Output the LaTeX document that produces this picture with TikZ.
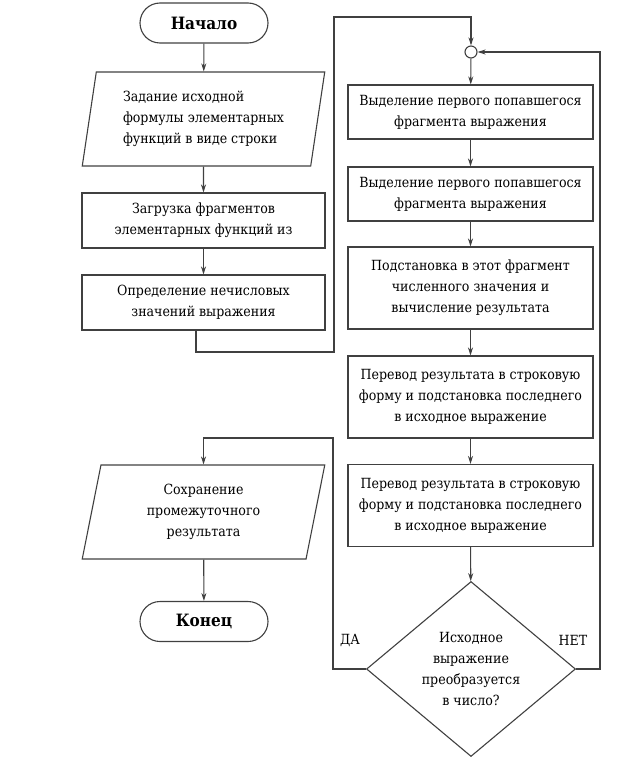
\documentclass[tikz,border=0pt]{standalone}
\usepackage{fontspec}
\setmainfont{DejaVu Serif Condensed}
\usetikzlibrary{shapes,arrows,positioning,arrows.meta}

\begin{document}
\begin{tikzpicture}[
    % GLOBAL CFG
    x=1pt, y=-1pt,
    font=\fontsize{14}{21}\selectfont,
    >={Stealth[length=8pt,width=5pt]},
    % Styles
    term/.style={% For start and end
        rectangle,
        rounded corners=20pt,
        draw=black!75,
        line width=1.1pt,
        minimum width=128pt,
        minimum height=40pt,
        font=\fontsize{17}{23}\selectfont\bfseries,
        },
    io/.style={% For input and output
        trapezium,
        trapezium left angle=80,
        trapezium right angle=100,
        trapezium stretches=true,
        draw=black!75,
        line width=1.1pt,
        minimum width=243pt,
        minimum height=94pt,
        },
    proc/.style={% For the process boxes
        rectangle,
        draw=black!75,
        line width=1.1pt,
        minimum width=243pt,
        minimum height=55pt,
        align=center,
        inner sep=2pt,
        },
    cond/.style={% For the question
        diamond,
        draw=black!75,
        line width=1.1pt,
        minimum width=209pt,
        minimum height=175pt,
        align=center,
        inner sep=0pt,
        },
    joint/.style={% For the small circle
        circle,
        draw=black!75,
        line width=1.1pt,
        minimum size=12pt,
        inner sep=0pt,
        },
    Arrow/.style={% Connectors
        line width=1.1pt,
        draw=black!75,
        },
    ]

    \useasboundingbox (0,0) rectangle (623,768);

%Start drawing the thing...
    % Left column
    \node [term] (start) at (204,23) {Начало};
    \node [io, align=left] (in1) at (203.5,119) {Задание исходной\\формулы элементарных\\функций в виде строки};
    \node [proc] (load) at (203.5,220.5) {Загрузка фрагментов\\элементарных функций из};
    \node [proc] (nonnum) at (203.5,302.5) {Определение нечисловых\\значений выражения};

    % Right column
    \node [joint] (join) at (471,52) {};
    \node [proc, minimum width=245pt, minimum height=54pt] (sel1) at (470.5,112) {Выделение первого попавшегося\\фрагмента выражения};
    \node [proc, minimum width=245pt, minimum height=54pt] (sel2) at (470.5,194) {Выделение первого попавшегося\\фрагмента выражения};
    \node [proc, minimum width=245pt, minimum height=82pt] (subst) at (470.5,288) {Подстановка в этот фрагмент\\численного значения и\\вычисление результата};
    \node [proc, minimum width=245pt, minimum height=82pt] (conv1) at (470.5,397) {Перевод результата в строковую\\форму и подстановка последнего\\в исходное выражение};
    \node [proc, minimum width=245pt, minimum height=82pt] (conv2) at (470.5,505.5) {Перевод результата в строковую\\форму и подстановка последнего\\в исходное выражение};
    \node [cond] (isnum) at (471,669) {Исходное\\выражение\\преобразуется\\в число?};

    % Output
    \node [io, align=center] (out) at (203.5,512) {Сохранение\\промежуточного\\результата};
    \node [term] (stop) at (204,621.5) {Конец};

    % Labels
    \node (yes) at (350,640) {ДА};
    \node (no) at (573,640) {НЕТ};

    % Bends
    \coordinate (k1) at (334,352);
    \coordinate (k2) at (334,17);
    \coordinate (k3) at (333,438);
    \coordinate (k4) at (600,52);

% Start connecting all.
    \draw [->, Arrow] (start) -- (in1);
    \draw [->, Arrow] (in1) -- (load);
    \draw [->, Arrow] (load) -- (nonnum);
    \draw [->, Arrow] ([xshift=-7.5pt]nonnum.south) |- (k1) -- (k2) -| (join);

    \draw [->, Arrow] (join) -- (sel1);
    \draw [->, Arrow] (sel1) -- (sel2);
    \draw [->, Arrow] (sel2) -- (subst);
    \draw [->, Arrow] (subst) -- (conv1);
    \draw [->, Arrow] (conv1) -- (conv2);
    \draw [->, Arrow] (conv2) -- (isnum);

    % Yes / No
    \draw [->, Arrow] (isnum.west) -| (k3) -| (out.north);
    \draw [->, Arrow] (isnum.east) -| (k4) -- (join.east);
    \draw [->, Arrow] (out) -- (stop);

\end{tikzpicture}
\end{document}
